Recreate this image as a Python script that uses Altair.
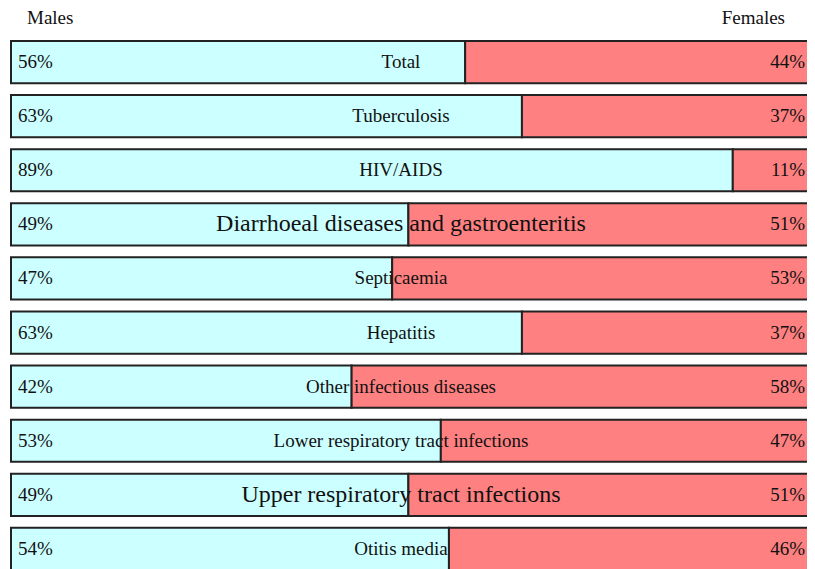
import altair as alt
import pandas as pd

categories = ["Total", "Tuberculosis", "HIV/AIDS",
              "Diarrhoeal diseases and gastroenteritis", "Septicaemia",
              "Hepatitis", "Other infectious diseases",
              "Lower respiratory tract infections",
              "Upper respiratory tract infections", "Otitis media"]
males = [56, 63, 89, 49, 47, 63, 42, 53, 49, 54]
females = [44, 37, 11, 51, 53, 37, 58, 47, 51, 46]
big_labels = ["Diarrhoeal diseases and gastroenteritis",
              "Upper respiratory tract infections"]

rows = []
for c, m, f in zip(categories, males, females):
    rows.append({"cat": c, "sex": "Males", "start": 0, "end": m, "pct": f"{m}%"})
    rows.append({"cat": c, "sex": "Females", "start": m, "end": m + f, "pct": f"{f}%"})
df = pd.DataFrame(rows)
lab = pd.DataFrame({"cat": categories})

FONT = "Liberation Serif"
W, H = 796, 541

y = alt.Y("cat:N", sort=categories, axis=None,
          scale=alt.Scale(paddingInner=0.22, paddingOuter=0.11))
x_scale = alt.Scale(domain=[0, 100], nice=False, zero=False, range=[0, 811])

bars = alt.Chart(df).mark_bar(stroke="#222222", strokeWidth=2, cornerRadius=0).encode(
    x=alt.X("start:Q", scale=x_scale, axis=None),
    x2="end:Q",
    y=y,
    color=alt.Color("sex:N", scale=alt.Scale(domain=["Males", "Females"],
                                             range=["#CCFFFF", "#FF8080"]), legend=None),
)

male_txt = alt.Chart(df).transform_filter(alt.datum.sex == "Males").mark_text(
    align="left", baseline="middle", font=FONT, fontSize=19, color="#111111"
).encode(x=alt.value(7), y=y, text="pct:N")

female_txt = alt.Chart(df).transform_filter(alt.datum.sex == "Females").mark_text(
    align="right", baseline="middle", font=FONT, fontSize=19, color="#111111"
).encode(x=alt.value(794), y=y, text="pct:N")

center_txt = alt.Chart(lab).mark_text(
    align="center", baseline="middle", font=FONT, color="#111111"
).encode(
    x=alt.value(390), y=y, text="cat:N",
    size=alt.condition(alt.FieldOneOfPredicate(field="cat", oneOf=big_labels),
                       alt.value(24), alt.value(19)),
)

males_head = alt.Chart(pd.DataFrame({"t": ["Males"]})).mark_text(
    align="left", baseline="middle", font=FONT, fontSize=19, color="#111111"
).encode(x=alt.value(16), y=alt.value(-17), text="t:N")

females_head = alt.Chart(pd.DataFrame({"t": ["Females"]})).mark_text(
    align="right", baseline="middle", font=FONT, fontSize=19, color="#111111"
).encode(x=alt.value(774), y=alt.value(-17), text="t:N")

chart = alt.layer(bars, male_txt, female_txt, center_txt, males_head, females_head).properties(
    width=W, height=H,
    autosize=alt.AutoSizeParams(type="none"),
    padding={"left": 3, "top": 27, "right": 0, "bottom": 0},
).configure_view(stroke=None)

chart.save("out.html", embed_options={"renderer": "svg", "actions": False})
